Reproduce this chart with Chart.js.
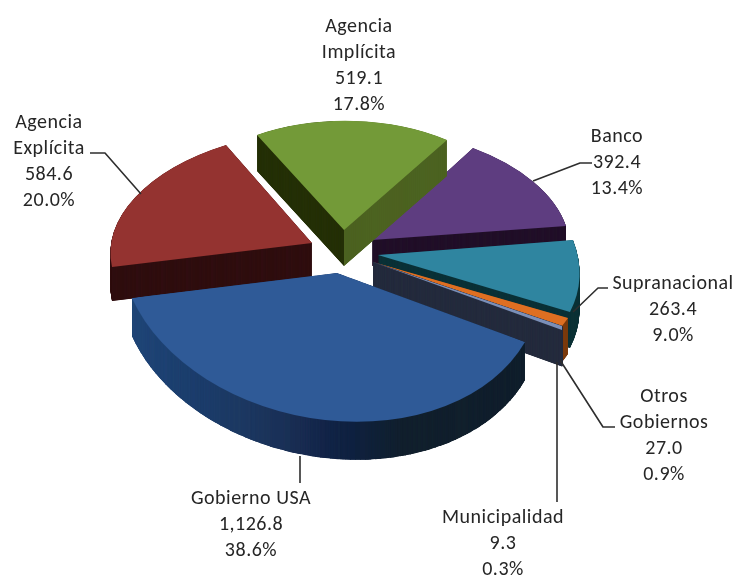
<!DOCTYPE html>
<html><head><meta charset="utf-8">
<style>html,body{margin:0;padding:0;background:#fff}canvas{display:block}</style>
<script src="https://cdn.jsdelivr.net/npm/chart.js@4/dist/chart.umd.min.js"></script>
</head><body><canvas id="c" width="734" height="575"></canvas>
<script>
const categories = ["Agencia\nImplícita","Banco","Supranacional","Otros\nGobiernos","Municipalidad","Gobierno USA","Agencia\nExplícita"];
const values = [519.1,392.4,263.4,27.0,9.3,1126.8,584.6];
const percents = ["17.8%","13.4%","9.0%","0.9%","0.3%","38.6%","20.0%"];
const topColors = ["#739A38","#5E3D80","#2F85A0","#DE6F22","#7B8FB8","#2F5A97","#943330"];

// Placement of each slice on the page (apex, clockwise-first corner, last corner, optional arc midpoint)
const placement = [
 {apex:[344,230],a:[257,135],b:[447,140],depth:36,walls:[[0,"#263209"],[344,"#4E6423"]]},
 {apex:[372,240],a:[473,148],b:[566,226],depth:26,walls:[[0,"#221029"]]},
 {apex:[378,255],a:[573,240],b:[570,312],depth:36,walls:[[0,"#0C3237"]]},
 {apex:[373,262],a:[568,318],b:[562,326],depth:36,walls:[[0,"#7A3A0C"]]},
 {apex:[373,262],a:[562,326],b:[562,330],depth:36,walls:[[0,"#252C3E"]],wallStroke:1.5},
 {apex:[337,273],a:[525,342],b:[132,298],mid:[325,420],depth:38,
  walls:[[120,"#21497A"],[190,"#1E3F6E"],[240,"#1E3A63"],[290,"#1B2F55"],[320,"#14264A"],[350,"#0F2240"],[400,"#12202E"],[530,"#12202E"]],blend:true},
 {apex:[312,243],a:[112,267],b:[226,145],depth:34,walls:[[0,"#300F10"]]}
];
const paintOrder = [1,0,6,2,3,4,5];
const leaders = [
 null,
 [[533,181],[580,163],[592,163]],
 [[573,312],[598,288],[608,288]],
 [[560,360],[603,427],[615,427]],
 [[557,362],[557,502]],
 [[300,456],[300,483]],
 [[141,194],[105,153],[90,153]]
];
const labelSpots = [[359,27],[617,137],[673,284],[664,397],[503,518],[251,499],[49,123]];
const lineGap = 26;

function fmt(v){return v.toLocaleString("en-US",{minimumFractionDigits:1,maximumFractionDigits:1});}
function rad(el,a){return [el.x+el.outerRadius*Math.cos(a),el.y+el.outerRadius*Math.sin(a)];}
function solve(src,dst){ // affine from 3 source to 3 destination points
  const [s0,s1,s2]=src,[d0,d1,d2]=dst;
  const ux=s1[0]-s0[0],uy=s1[1]-s0[1],vx=s2[0]-s0[0],vy=s2[1]-s0[1];
  const det=ux*vy-vx*uy;
  const px=d1[0]-d0[0],py=d1[1]-d0[1],qx=d2[0]-d0[0],qy=d2[1]-d0[1];
  const a=(px*vy-qx*uy)/det,c=(qx*ux-px*vx)/det,b=(py*vy-qy*uy)/det,d=(qy*ux-py*vx)/det;
  return [a,b,c,d,d0[0]-a*s0[0]-c*s0[1],d0[1]-b*s0[0]-d*s0[1]];
}
function lerpHex(h1,h2,t){
  const p=h=>[1,3,5].map(i=>parseInt(h.substr(i,2),16));
  const A=p(h1),B=p(h2);
  return "rgb("+A.map((v,i)=>Math.round(v+(B[i]-v)*t)).join(",")+")";
}
function stand(el,color,stroke){
  const p=Object.create(el);
  p.options={backgroundColor:color,borderColor:color,borderWidth:stroke||0,offset:0,spacing:0,borderRadius:0,circular:true,borderAlign:"center"};
  return p;
}
function clipWedge(ctx,s,dy){
  if(!s.mid)return;
  ctx.beginPath();
  ctx.moveTo(s.apex[0],s.apex[1]+dy);
  ctx.lineTo(s.a[0],s.a[1]+dy);
  ctx.lineTo(s.a[0]+60,s.a[1]+dy+200);
  ctx.lineTo(s.b[0]-60,s.b[1]+dy+200);
  ctx.lineTo(s.b[0],s.b[1]+dy);
  ctx.closePath();
  ctx.clip();
}
const pie3d={
  id:"pie3d",
  beforeDatasetsDraw(chart){
    const ctx=chart.ctx,els=chart.getDatasetMeta(0).data;
    paintOrder.forEach(i=>{
      const el=els[i],s=placement[i];
      const m=s.mid?
        solve([rad(el,el.startAngle),rad(el,el.endAngle),rad(el,(el.startAngle+el.endAngle)/2)],[s.a,s.b,s.mid]):
        solve([[el.x,el.y],rad(el,el.startAngle),rad(el,el.endAngle)],[s.apex,s.a,s.b]);
      const paint=(color,dy,stroke)=>{
        ctx.save();
        clipWedge(ctx,s,dy);
        ctx.translate(0,dy);
        ctx.transform(...m);
        el.draw.call(stand(el,color,stroke),ctx);
        ctx.restore();
      };
      // side walls, in vertical strips
      const strips=[];
      if(s.blend){
        for(let k=0;k<s.walls.length-1;k++){
          const [x0,c0]=s.walls[k],[x1,c1]=s.walls[k+1];
          for(let x=x0;x<x1;x+=5) strips.push([x,x+5.5,lerpHex(c0,c1,(x-x0)/(x1-x0))]);
        }
      } else {
        s.walls.forEach((w,k)=>strips.push([w[0],k+1<s.walls.length?s.walls[k+1][0]:734,w[1]]));
      }
      strips.forEach(([x0,x1,col])=>{
        ctx.save();
        ctx.beginPath();ctx.rect(x0,0,x1-x0,575);ctx.clip();
        for(let d=s.depth;d>=0.25;d-=0.25) paint(col,d,s.wallStroke);
        ctx.restore();
      });
      paint(topColors[i],0);
    });
    return false;
  },
  afterDraw(chart){
    const ctx=chart.ctx;
    ctx.save();
    ctx.strokeStyle="#2e2e2e";ctx.lineWidth=1.6;ctx.lineJoin="round";
    leaders.forEach(l=>{
      if(!l)return;
      ctx.beginPath();
      l.forEach((p,k)=>k?ctx.lineTo(p[0],p[1]):ctx.moveTo(p[0],p[1]));
      ctx.stroke();
    });
    ctx.fillStyle="#262626";
    ctx.font='20px Carlito, Lato, sans-serif';
    ctx.letterSpacing="0.5px";
    ctx.textAlign="center";ctx.textBaseline="middle";
    categories.forEach((n,i)=>{
      const lines=[...n.split("\n"),fmt(values[i]),percents[i]];
      lines.forEach((t,k)=>ctx.fillText(t,labelSpots[i][0],labelSpots[i][1]+k*lineGap));
    });
    ctx.restore();
  }
};
new Chart(document.getElementById("c"),{
  type:"pie",
  data:{labels:categories,datasets:[{data:values,backgroundColor:topColors,borderWidth:0}]},
  options:{responsive:false,animation:false,rotation:-32,
    layout:{padding:0},
    plugins:{legend:{display:false},tooltip:{enabled:false}}},
  plugins:[pie3d]
});
</script></body></html>
